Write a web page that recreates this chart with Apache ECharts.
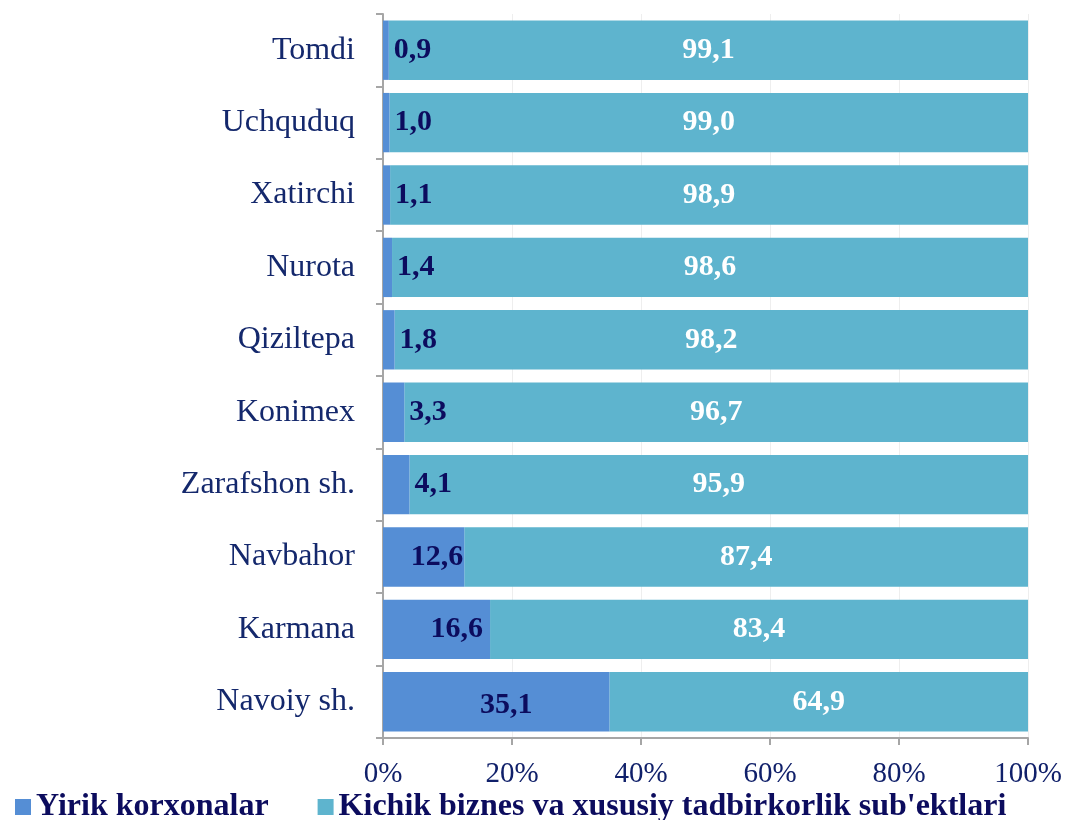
<!DOCTYPE html>
<html>
<head>
<meta charset="utf-8">
<script src="https://cdn.jsdelivr.net/npm/echarts@6/dist/echarts.min.js"></script>
<style>
  html, body { margin: 0; padding: 0; background: #fff; }
  #chart { width: 1066px; height: 820px; }
</style>
</head>
<body>
<div id="chart"></div>
<script>
// districts, top to bottom
var districts = ['Tomdi', 'Uchquduq', 'Xatirchi', 'Nurota', 'Qiziltepa', 'Konimex', 'Zarafshon sh.', 'Navbahor', 'Karmana', 'Navoiy sh.']
var largeShare = [0.9, 1.0, 1.1, 1.4, 1.8, 3.3, 4.1, 12.6, 16.6, 35.1]
var smallShare = [99.1, 99.0, 98.9, 98.6, 98.2, 96.7, 95.9, 87.4, 83.4, 64.9]
var seriesNames = ['Yirik korxonalar', "Kichik biznes va xususiy tadbirkorlik sub'ektlari"]

var font = '"Liberation Serif", "Times New Roman", serif'
var navy = '#0c0c5e'

function fmt(v) {
  return v.toFixed(1).replace('.', ',')
}

// where the dark label of a blue bar sits, depends on how wide the bar is
function largeLabel(v) {
  if (v < 10) return { position: 'right', distance: 5 }
  if (v < 15) return { position: 'insideRight', distance: 1 }
  if (v < 30) return { position: 'insideRight', distance: 7 }
  return { position: 'inside', offset: [10, 3] }
}

var chart = echarts.init(document.getElementById('chart'))

chart.setOption({
  animation: false,
  textStyle: { fontFamily: font },
  grid: {
    left: 383,
    right: 38,
    top: 14,
    bottom: 82
  },
  legend: {
    left: 10,
    top: 786,
    itemWidth: 16,
    itemHeight: 16,
    itemGap: 49,
    icon: 'rect',
    textStyle: {
      fontFamily: font,
      fontSize: 32,
      fontWeight: 'bold',
      color: navy
    },
    data: seriesNames
  },
  xAxis: {
    type: 'value',
    min: 0,
    max: 100,
    interval: 20,
    axisLine: { show: true, lineStyle: { color: '#a6a6a6', width: 2 } },
    axisTick: { show: true, length: 7, lineStyle: { color: '#a6a6a6', width: 2 } },
    splitLine: { show: true, lineStyle: { color: '#eeeeee', width: 1 } },
    axisLabel: {
      margin: 22,
      fontFamily: font,
      fontSize: 29,
      color: '#10206a',
      formatter: '{value}%'
    }
  },
  yAxis: {
    type: 'category',
    inverse: true,
    data: districts,
    axisLine: { show: true, lineStyle: { color: '#a6a6a6', width: 2 } },
    axisTick: { show: true, length: 7, lineStyle: { color: '#a6a6a6', width: 2 } },
    axisLabel: {
      margin: 28,
      fontFamily: font,
      fontSize: 32,
      color: '#14286c'
    }
  },
  series: [
    {
      name: seriesNames[0],
      type: 'bar',
      stack: 'total',
      barCategoryGap: '18%',
      itemStyle: { color: '#558ed5' },
      data: largeShare.map(function (v) {
        return { value: v, label: largeLabel(v) }
      }),
      label: {
        show: true,
        fontFamily: font,
        fontSize: 30,
        fontWeight: 'bold',
        color: navy,
        formatter: function (p) { return fmt(p.value) }
      },
      z: 3
    },
    {
      name: seriesNames[1],
      type: 'bar',
      stack: 'total',
      barCategoryGap: '18%',
      itemStyle: { color: '#5eb4ce' },
      data: smallShare,
      label: {
        show: true,
        position: 'inside',
        fontFamily: font,
        fontSize: 30,
        fontWeight: 'bold',
        color: '#ffffff',
        formatter: function (p) { return fmt(p.value) }
      },
      z: 2
    }
  ]
})
</script>
</body>
</html>
